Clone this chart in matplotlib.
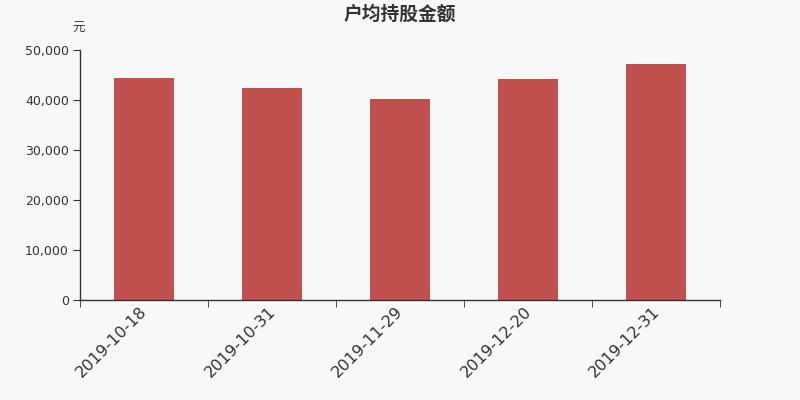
import matplotlib
matplotlib.use("Agg")
import matplotlib.pyplot as plt
import matplotlib.transforms as mtransforms
import numpy as np

categories = ["2019-10-18", "2019-10-31", "2019-11-29", "2019-12-20", "2019-12-31"]
values = [44340, 42330, 40200, 44200, 47200]
yticks = [0, 10000, 20000, 30000, 40000, 50000]
title = "户均持股金额"
unit = "元"

plt.rcParams['font.family'] = ['DejaVu Sans', 'Noto Sans CJK SC']

bg = "#f8f8f8"
fig = plt.figure(figsize=(8, 4), dpi=100, facecolor=bg)
ax = fig.add_axes([0.1, 0.25, 0.8, 0.625], facecolor=bg)

x = np.arange(len(categories))
ax.bar(x, values, width=0.47, color="#c0504d", zorder=2)

ax.set_xlim(-0.5, len(categories) - 0.5)
ax.set_ylim(0, 50000)
ax.set_yticks(yticks)
ax.set_yticklabels([f"{v:,}" for v in yticks], fontsize=9, color="#333333")

ax.set_xticks(x)
ax.set_xticklabels(categories, rotation=45, ha="right", rotation_mode="anchor",
                   fontsize=11.5, color="#333333")
ax.tick_params(axis="x", which="major", length=0, pad=3)
offset = mtransforms.ScaledTranslation(-0.045, 0, fig.dpi_scale_trans)
for lbl in ax.get_xticklabels():
    lbl.set_transform(lbl.get_transform() + offset)
ax.set_xticks(np.arange(-0.5, len(categories)), minor=True)
ax.tick_params(axis="x", which="minor", length=5, color="#333333")
ax.tick_params(axis="y", length=5, color="#333333", pad=3)

for s in ["top", "right"]:
    ax.spines[s].set_visible(False)
for s in ["left", "bottom"]:
    ax.spines[s].set_color("#333333")
    ax.spines[s].set_linewidth(1)

fig.text(0.5, 0.965, title, ha="center", va="center", fontsize=13.5, fontweight="bold",
         color="#333333", family=['Noto Sans CJK SC', 'DejaVu Sans'])
fig.text(0.0988, 0.928, unit, ha="center", va="center", fontsize=9,
         color="#333333", family=['Noto Sans CJK SC', 'DejaVu Sans'])

fig.savefig("out.png", dpi=100, facecolor=bg)
